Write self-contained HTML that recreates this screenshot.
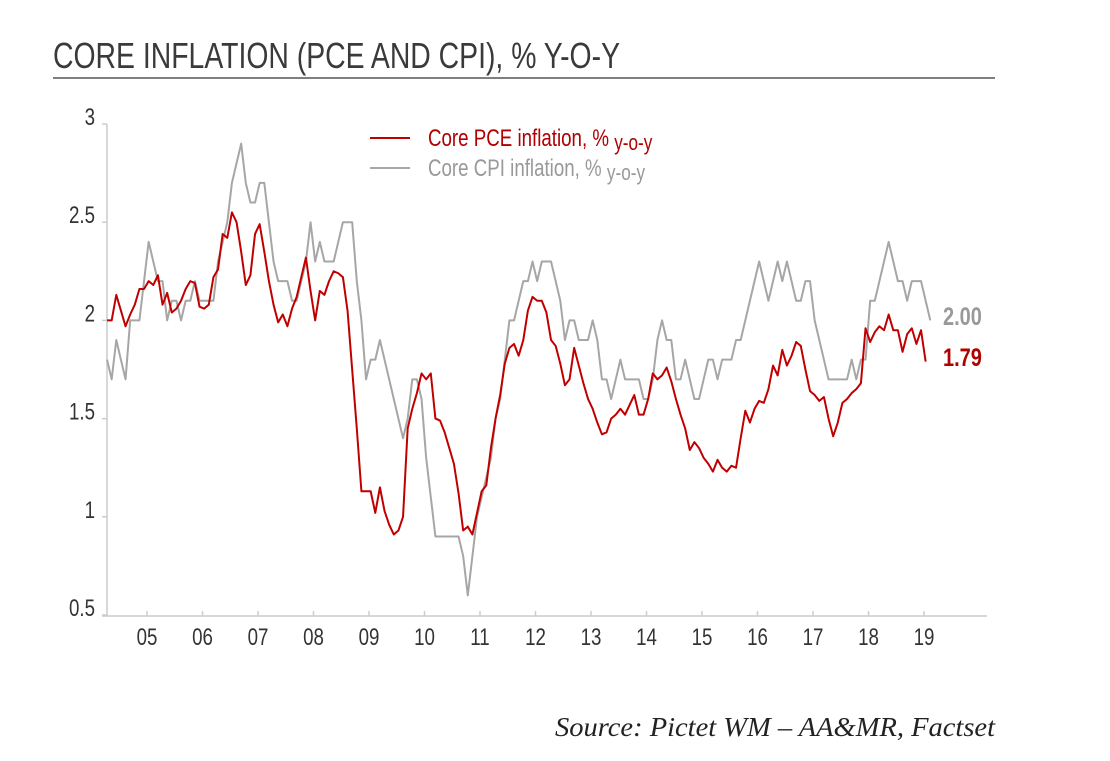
<!DOCTYPE html>
<html><head><meta charset="utf-8">
<style>
html,body{margin:0;padding:0;background:#fff;}
svg{display:block;font-family:"Liberation Sans Narrow","Liberation Sans",sans-serif;}
</style></head>
<body>
<svg id="chart" width="1110" height="761" viewBox="0 0 1110 761">
  <text x="53" y="68" font-size="36" fill="#3a3a3a" textLength="567" lengthAdjust="spacingAndGlyphs">CORE INFLATION (PCE AND CPI), % Y-O-Y</text>
  <line x1="53" y1="78" x2="995" y2="78" stroke="#555" stroke-width="1.5"/>
  <g id="axes"></g>
  <g id="series"></g>
  <g>
    <line x1="370" y1="138" x2="410" y2="138" stroke="#c00000" stroke-width="2"/>
    <g transform="translate(428,146) scale(0.78,1)">
      <text x="0" y="0" font-size="24" fill="#b00000">Core PCE inflation, % <tspan font-size="22" dy="4">y-o-y</tspan></text>
    </g>
    <line x1="370" y1="168" x2="410" y2="168" stroke="#aaa" stroke-width="2"/>
    <g transform="translate(428,176) scale(0.78,1)">
      <text x="0" y="0" font-size="24" fill="#999">Core CPI inflation, % <tspan font-size="22" dy="4">y-o-y</tspan></text>
    </g>
  </g>
  <g transform="translate(943,325) scale(0.8,1)">
    <text x="0" y="0" font-size="25" font-weight="bold" fill="#999">2.00</text>
  </g>
  <g transform="translate(943,366) scale(0.8,1)">
    <text x="0" y="0" font-size="25" font-weight="bold" fill="#b00000">1.79</text>
  </g>
  <text x="555" y="736" font-size="27" font-style="italic" textLength="440" lengthAdjust="spacingAndGlyphs" fill="#222" style="font-family:'Liberation Serif',serif">Source: Pictet WM – AA&amp;MR, Factset</text>
</svg>
<script>
const yTicks = [0.5, 1, 1.5, 2, 2.5, 3];
const yTickLabels = ["0.5", "1", "1.5", "2", "2.5", "3"];
const xTickYears = [2005,2006,2007,2008,2009,2010,2011,2012,2013,2014,2015,2016,2017,2018,2019];
const xTickLabels = ["05","06","07","08","09","10","11","12","13","14","15","16","17","18","19"];
const startTime = 2004.28;
const cpiValues = [
 1.8,1.7,1.9,1.8,1.7,2.0,2.0,2.0,
 2.2,2.4,2.3,2.2,2.2,2.0,2.1,2.1,2.0,2.1,2.1,2.2,
 2.1,2.1,2.1,2.1,2.3,2.4,2.5,2.7,2.8,2.9,2.7,2.6,
 2.6,2.7,2.7,2.5,2.3,2.2,2.2,2.2,2.1,2.1,2.2,2.3,
 2.5,2.3,2.4,2.3,2.3,2.3,2.4,2.5,2.5,2.5,2.2,2.0,
 1.7,1.8,1.8,1.9,1.8,1.7,1.6,1.5,1.4,1.5,1.7,1.7,
 1.6,1.3,1.1,0.9,0.9,0.9,0.9,0.9,0.9,0.8,0.6,0.8,
 1.0,1.1,1.2,1.3,1.5,1.6,1.8,2.0,2.0,2.1,2.2,2.2,
 2.3,2.2,2.3,2.3,2.3,2.2,2.1,1.9,2.0,2.0,1.9,1.9,
 1.9,2.0,1.9,1.7,1.7,1.6,1.7,1.8,1.7,1.7,1.7,1.7,
 1.6,1.6,1.7,1.9,2.0,1.9,1.9,1.7,1.7,1.8,1.7,1.6,
 1.6,1.7,1.8,1.8,1.7,1.8,1.8,1.8,1.9,1.9,2.0,2.1,
 2.2,2.3,2.2,2.1,2.2,2.3,2.2,2.3,2.2,2.1,2.1,2.2,
 2.2,2.0,1.9,1.8,1.7,1.7,1.7,1.7,1.7,1.8,1.7,1.8,
 1.8,2.1,2.1,2.2,2.3,2.4,2.3,2.2,2.2,2.1,2.2,2.2,
 2.2,2.1,2.0
];
const pceValues = [
 2.0,2.0,2.13,2.05,1.97,2.03,2.08,2.16,
 2.16,2.2,2.18,2.23,2.08,2.14,2.04,2.06,2.1,2.16,2.2,2.19,
 2.07,2.06,2.08,2.22,2.26,2.44,2.42,2.55,2.5,2.35,2.18,2.23,
 2.44,2.49,2.35,2.2,2.08,1.99,2.03,1.97,2.06,2.12,2.22,2.32,
 2.15,2.0,2.15,2.13,2.2,2.25,2.24,2.22,2.05,1.75,1.45,1.13,
 1.13,1.13,1.02,1.15,1.03,0.96,0.91,0.93,1.0,1.45,1.55,1.63,
 1.73,1.7,1.73,1.5,1.49,1.43,1.35,1.27,1.12,0.93,0.95,0.91,
 1.02,1.13,1.16,1.35,1.5,1.62,1.78,1.86,1.88,1.82,1.9,2.05,
 2.12,2.1,2.1,2.04,1.9,1.87,1.78,1.67,1.7,1.86,1.77,1.68,
 1.6,1.55,1.48,1.42,1.43,1.5,1.52,1.55,1.52,1.57,1.62,1.52,
 1.52,1.6,1.73,1.7,1.72,1.76,1.69,1.6,1.52,1.45,1.34,1.38,
 1.35,1.3,1.27,1.23,1.29,1.25,1.23,1.26,1.25,1.4,1.54,1.48,
 1.55,1.59,1.58,1.65,1.77,1.72,1.85,1.77,1.82,1.89,1.87,1.75,
 1.64,1.62,1.59,1.61,1.5,1.41,1.48,1.58,1.6,1.63,1.65,1.68,
 1.96,1.89,1.94,1.97,1.95,2.03,1.95,1.95,1.84,1.93,1.96,1.88,
 1.95,1.79
];

const NS = "http://www.w3.org/2000/svg";
function yScale(v){ return 615 - (v - 0.5) * 196.4; }
function xScale(t){ return 147 + (t - 2005) * 55.5; }
function mk(tag, attrs){ const e = document.createElementNS(NS, tag); for (const k in attrs) e.setAttribute(k, attrs[k]); return e; }

const axes = document.getElementById('axes');
const yAxis = mk('line', {x1:107, y1:124, x2:107, y2:616, stroke:'#ccc', 'stroke-width':1.5});


axes.appendChild(yAxis);
const xAxis = mk('line', {x1:102, y1:616, x2:987, y2:616, stroke:'#ccc', 'stroke-width':1.5});


axes.appendChild(xAxis);

yTicks.forEach((v, i) => {
  const y = yScale(v);
  const tk = mk('line', {x1:102, y1:y, x2:107, y2:y, stroke:'#ccc', 'stroke-width':1.5});
  
  
  axes.appendChild(tk);
  const g = mk('g', {transform:'translate(95,' + (y + 1) + ') scale(0.78,1)'});
  const tx = mk('text', {x:0, y:0, 'font-size':24, 'text-anchor':'end', fill:'#333'});
  tx.textContent = yTickLabels[i];
  
  
  g.appendChild(tx);
  axes.appendChild(g);
});
xTickYears.forEach((t, i) => {
  const x = xScale(t);
  const tk = mk('line', {x1:x, y1:611, x2:x, y2:616, stroke:'#ccc', 'stroke-width':1.5});
  
  
  axes.appendChild(tk);
  const g = mk('g', {transform:'translate(' + x + ',645) scale(0.78,1)'});
  const tx = mk('text', {x:0, y:0, 'font-size':24, 'text-anchor':'middle', fill:'#333'});
  tx.textContent = xTickLabels[i];
  
  
  g.appendChild(tx);
  axes.appendChild(g);
});

const series = document.getElementById('series');
function pathFor(vals){
  return vals.map((v, i) => (i ? 'L' : 'M') + xScale(startTime + i / 12).toFixed(2) + ',' + yScale(v).toFixed(2)).join(' ');
}
const cpiLine = mk('path', {d:pathFor(cpiValues), fill:'none', stroke:'#a6a6a6', 'stroke-width':2, 'stroke-linejoin':'round'});


series.appendChild(cpiLine);
const pceLine = mk('path', {d:pathFor(pceValues), fill:'none', stroke:'#c00000', 'stroke-width':2, 'stroke-linejoin':'round'});


series.appendChild(pceLine);
</script>
</body></html>
